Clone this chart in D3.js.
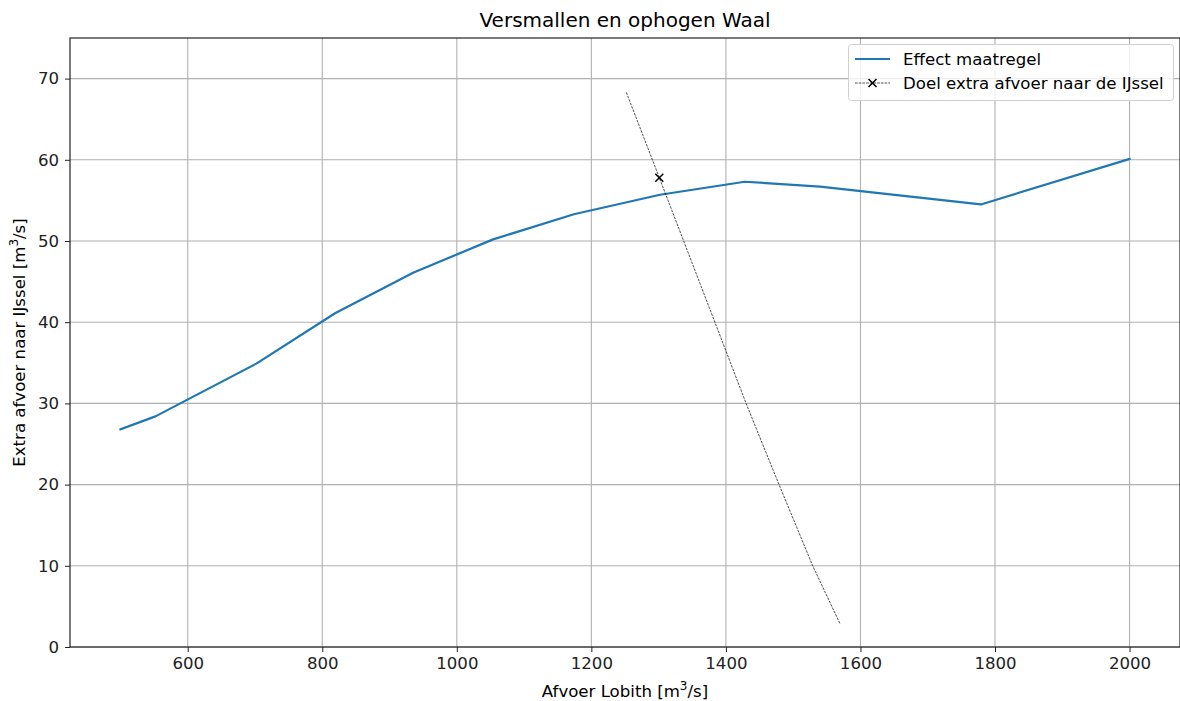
<!DOCTYPE html>
<html>
<head>
<meta charset="utf-8">
<script src="https://cdn.jsdelivr.net/npm/d3@7"></script>
<style>
  html, body { margin: 0; padding: 0; background: #fff; }
  svg { display: block; font-family: "DejaVu Sans", sans-serif; }
</style>
</head>
<body>
<svg id="chart" width="1180" height="701"></svg>
<script>
// Effect of the measure: extra discharge to the IJssel vs. Lobith discharge
const lobith = [500, 552, 702, 819, 935, 1054, 1174, 1302, 1428, 1540, 1779, 2000];
const extraIJssel = [26.8, 28.4, 34.9, 41.1, 46.1, 50.2, 53.3, 55.7, 57.3, 56.7, 54.5, 60.1];

// Target curve for extra discharge to the IJssel
const targetLobith = [1252, 1301, 1430, 1474, 1529, 1570];
const targetExtra = [68.3, 57.8, 30.0, 21.0, 10.0, 2.8];
const targetMarkerIndex = [1];

const xTicks = [600, 800, 1000, 1200, 1400, 1600, 1800, 2000];
const yTicks = [0, 10, 20, 30, 40, 50, 60, 70];

const title = "Versmallen en ophogen Waal";
const legendLabels = ["Effect maatregel", "Doel extra afvoer naar de IJssel"];

const svg = d3.select("#chart");
const margin = { left: 70, right: 0, top: 38, bottom: 54 };
const W = 1180, H = 701;
const x = d3.scaleLinear().domain([425, 2075]).range([margin.left, W - margin.right]);
const y = d3.scaleLinear().domain([0, 75]).range([H - margin.bottom, margin.top]);

const blue = "#1f77b4";
const fs = "16.6px";
const g = svg.append("g");

// grid
g.append("g").selectAll("line").data(xTicks).join("line")
  .attr("x1", d => x(d)).attr("x2", d => x(d))
  .attr("y1", y(0)).attr("y2", y(75))
  .attr("stroke", "#b0b0b0").attr("stroke-width", 1.1);
g.append("g").selectAll("line").data(yTicks).join("line")
  .attr("x1", x(425)).attr("x2", x(2075))
  .attr("y1", d => y(d)).attr("y2", d => y(d))
  .attr("stroke", "#b0b0b0").attr("stroke-width", 1.1);

// axes
const xAxis = d3.axisBottom(x).tickValues(xTicks).tickSize(5).tickPadding(5).tickFormat(d3.format("d"));
const yAxis = d3.axisLeft(y).tickValues(yTicks).tickSize(5).tickPadding(6).tickFormat(d3.format("d"));
const gx = g.append("g").attr("transform", `translate(0,${y(0)})`).call(xAxis);
const gy = g.append("g").attr("transform", `translate(${x(425)},0)`).call(yAxis);
[gx, gy].forEach(a => {
  a.select(".domain").remove();
  a.selectAll(".tick line").attr("stroke", "#222").attr("stroke-width", 1);
  a.selectAll(".tick text").attr("fill", "#222").style("font-size", fs)
    .style("font-family", "DejaVu Sans");
});

// spines
g.append("rect")
  .attr("x", x(425)).attr("y", y(75))
  .attr("width", x(2075) - x(425)).attr("height", y(0) - y(75))
  .attr("fill", "none").attr("stroke", "#222").attr("stroke-width", 1.2);

// effect line
const lineFx = d3.line().x((d, i) => x(lobith[i])).y(d => y(d));
g.append("path").datum(extraIJssel)
  .attr("d", lineFx)
  .attr("fill", "none").attr("stroke", blue).attr("stroke-width", 2.2)
  .attr("stroke-linejoin", "round").attr("stroke-linecap", "square");

// target line (dashed)
const lineTarget = d3.line().x((d, i) => x(targetLobith[i])).y(d => y(d));
g.append("path").datum(targetExtra)
  .attr("d", lineTarget)
  .attr("fill", "none").attr("stroke", "#000").attr("stroke-width", 0.7)
  .attr("stroke-dasharray", "2.6,1.1");

function xMarker(sel, cx, cy, r) {
  sel.append("path")
    .attr("d", `M${cx - r},${cy - r}L${cx + r},${cy + r}M${cx - r},${cy + r}L${cx + r},${cy - r}`)
    .attr("stroke", "#000").attr("stroke-width", 1.5).attr("fill", "none");
}
targetMarkerIndex.forEach(i => xMarker(g, x(targetLobith[i]), y(targetExtra[i]), 4));

// title
svg.append("text")
  .attr("x", (x(425) + x(2075)) / 2).attr("y", 27)
  .attr("text-anchor", "middle").attr("fill", "#000")
  .style("font-size", "20px").text(title);

// axis labels with superscript
function unitLabel(sel, before, after) {
  sel.append("tspan").text(before + "[m");
  sel.append("tspan").attr("dy", -7).style("font-size", "12px").text("3");
  sel.append("tspan").attr("dy", 7).text("/s]" + after);
}
const xl = svg.append("text")
  .attr("x", (x(425) + x(2075)) / 2).attr("y", 697)
  .attr("text-anchor", "middle").attr("fill", "#000").style("font-size", fs);
unitLabel(xl, "Afvoer Lobith ", "");

const yl = svg.append("text")
  .attr("transform", `translate(25,${(y(0) + y(75)) / 2}) rotate(-90)`)
  .attr("text-anchor", "middle").attr("fill", "#000").style("font-size", fs);
unitLabel(yl, "Extra afvoer naar IJssel ", "");

// legend
const lg = svg.append("g");
lg.append("rect")
  .attr("x", 848.5).attr("y", 44.5).attr("width", 325).attr("height", 56)
  .attr("rx", 3).attr("fill", "#fff").attr("fill-opacity", 0.8)
  .attr("stroke", "#d0d0d0").attr("stroke-width", 1);
lg.append("line").attr("x1", 855).attr("x2", 890).attr("y1", 59).attr("y2", 59)
  .attr("stroke", blue).attr("stroke-width", 2.2);
lg.append("line").attr("x1", 855).attr("x2", 890).attr("y1", 83).attr("y2", 83)
  .attr("stroke", "#000").attr("stroke-width", 0.7).attr("stroke-dasharray", "2.6,1.1");
xMarker(lg, 872.5, 83, 4);
lg.selectAll("text.lbl").data(legendLabels).join("text").attr("class", "lbl")
  .attr("x", 903).attr("y", (d, i) => 65 + i * 24)
  .attr("fill", "#000").style("font-size", fs).text(d => d);
</script>
</body>
</html>
